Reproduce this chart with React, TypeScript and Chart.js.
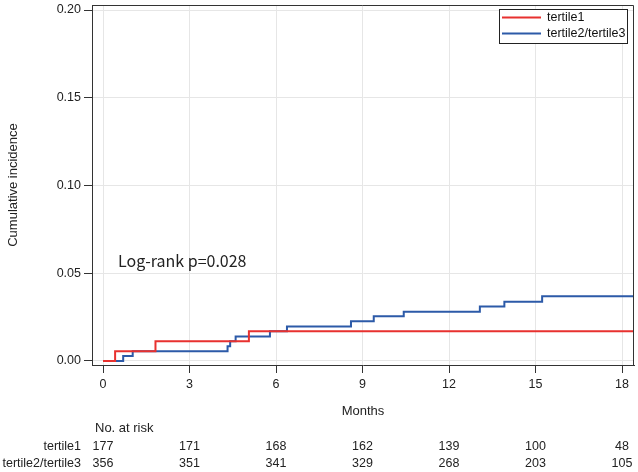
import React, { useEffect, useRef } from "react";
import { Chart, registerables } from "chart.js";

Chart.register(...registerables);

const tertile1Times = [0, 0.42, 1.82, 5.06, 18.42];
const tertile1Values = [0, 0.0056, 0.0113, 0.0169, 0.0169];
const tertile23Times = [0, 0.7, 1.03, 4.32, 4.41, 4.6, 5.79, 6.38, 8.6, 9.39, 10.43, 13.07, 13.92, 15.23, 18.42];
const tertile23Values = [0, 0.0028, 0.0056, 0.0084, 0.0112, 0.014, 0.0169, 0.0197, 0.0226, 0.0255, 0.0281, 0.031, 0.0338, 0.0369, 0.0369];

const xTicks = [0, 3, 6, 9, 12, 15, 18];
const yTicks = [0, 0.05, 0.1, 0.15, 0.2];
const seriesNames = ["tertile1", "tertile2/tertile3"];
const riskTertile1 = [177, 171, 168, 162, 139, 100, 48];
const riskTertile23 = [356, 351, 341, 329, 268, 203, 105];
const annotationText = "Log-rank p=0.028";

const RED = "#e8312f";
const BLUE = "#2c5aa8";
const FONT = "'Liberation Sans', Arial, sans-serif";

export default function App() {
  const ref = useRef<HTMLCanvasElement | null>(null);
  useEffect(() => {
    document.body.style.margin = "0";
    const canvas = ref.current;
    if (!canvas) return;
    const decor = {
      id: "decor",
      afterDraw(chart: any) {
        const ctx = chart.ctx;
        const ca = chart.chartArea;
        const xs = chart.scales.x;
        ctx.save();
        // frame top/right
        ctx.strokeStyle = "#333";
        ctx.lineWidth = 1;
        ctx.beginPath();
        ctx.moveTo(ca.left, Math.round(ca.top) + 0.5);
        ctx.lineTo(Math.round(ca.right) - 0.5, Math.round(ca.top) + 0.5);
        ctx.lineTo(Math.round(ca.right) - 0.5, ca.bottom);
        ctx.stroke();
        // legend
        const lx = 499, ly = 9, lw = 128, lh = 34;
        ctx.fillStyle = "#fff";
        ctx.fillRect(lx, ly, lw, lh);
        ctx.strokeStyle = "#222";
        ctx.strokeRect(lx + 0.5, ly + 0.5, lw, lh);
        const cols = [RED, BLUE];
        ctx.font = `12.5px ${FONT}`;
        ctx.textBaseline = "middle";
        ctx.textAlign = "left";
        seriesNames.forEach((n, i) => {
          const yy = ly + 8.5 + i * 16;
          ctx.strokeStyle = cols[i];
          ctx.lineWidth = 2;
          ctx.beginPath();
          ctx.moveTo(lx + 3, yy);
          ctx.lineTo(lx + 42, yy);
          ctx.stroke();
          ctx.fillStyle = "#111";
          ctx.fillText(n, lx + 48, yy);
        });
        // annotation
        ctx.font = `16px 'Noto Sans CJK JP', 'Noto Sans', sans-serif`;
        ctx.fillStyle = "#222";
        ctx.fillText(annotationText, 118, 261);
        // y title
        ctx.save();
        ctx.translate(13, (ca.top + ca.bottom) / 2);
        ctx.rotate(-Math.PI / 2);
        ctx.textAlign = "center";
        ctx.font = `13px ${FONT}`;
        ctx.fillText("Cumulative incidence", 0, 0);
        ctx.restore();
        // months
        ctx.font = `13px ${FONT}`;
        ctx.textAlign = "center";
        ctx.fillText("Months", (ca.left + ca.right) / 2, 411);
        // risk table
        ctx.textAlign = "left";
        ctx.fillText("No. at risk", 95, 428);
        ctx.font = `12.5px ${FONT}`;
        ctx.textAlign = "right";
        ctx.fillText(seriesNames[0], 81, 447);
        ctx.fillText(seriesNames[1], 81, 464);
        ctx.textAlign = "center";
        xTicks.forEach((t, i) => {
          const px = xs.getPixelForValue(t);
          ctx.fillText(String(riskTertile1[i]), px, 447);
          ctx.fillText(String(riskTertile23[i]), px, 464);
        });
        ctx.restore();
      },
    };
    const chart = new Chart(canvas, {
      type: "line",
      data: {
        datasets: [
          {
            label: seriesNames[0],
            data: tertile1Times.map((t, i) => ({ x: t, y: tertile1Values[i] })),
            borderColor: RED,
            borderWidth: 2,
            pointRadius: 0,
            stepped: "before",
            fill: false,
          },
          {
            label: seriesNames[1],
            data: tertile23Times.map((t, i) => ({ x: t, y: tertile23Values[i] })),
            borderColor: BLUE,
            borderWidth: 2,
            pointRadius: 0,
            stepped: "before",
            fill: false,
          },
        ],
      },
      options: {
        animation: false,
        responsive: false,
        maintainAspectRatio: false,
        layout: { padding: { left: 0, right: 4, top: 5, bottom: 0 } },
        plugins: { legend: { display: false }, tooltip: { enabled: false } },
        scales: {
          x: {
            type: "linear",
            min: -0.3815,
            max: 18.416,
            afterFit: (s: any) => { s.height = 107; s.paddingLeft = 0; s.paddingRight = 0; },
            afterBuildTicks: (s: any) => { s.ticks = xTicks.map((v) => ({ value: v })); },
            grid: { color: "#e6e6e6", tickColor: "#333", tickLength: 8, drawTicks: true },
            border: { display: true, color: "#333", width: 1 },
            ticks: { font: { family: FONT, size: 12.5 }, color: "#222", padding: 4, maxRotation: 0, callback: (v: any) => String(v) },
          },
          y: {
            type: "linear",
            min: -0.00228,
            max: 0.20285,
            afterFit: (s: any) => { s.width = 92; s.paddingTop = 0; s.paddingBottom = 0; },
            afterBuildTicks: (s: any) => { s.ticks = yTicks.map((v) => ({ value: v })); },
            grid: { color: "#e6e6e6", tickColor: "#333", tickLength: 8, drawTicks: true },
            border: { display: true, color: "#333", width: 1 },
            ticks: { font: { family: FONT, size: 12.5 }, color: "#222", padding: 3, callback: (v: any) => Number(v).toFixed(2) },
          },
        },
      },
      plugins: [decor],
    } as any);
    return () => chart.destroy();
  }, []);
  return (
    <div style={{ width: 638, height: 472 }}>
      <canvas ref={ref} width={638} height={472} style={{ display: "block" }} />
    </div>
  );
}
